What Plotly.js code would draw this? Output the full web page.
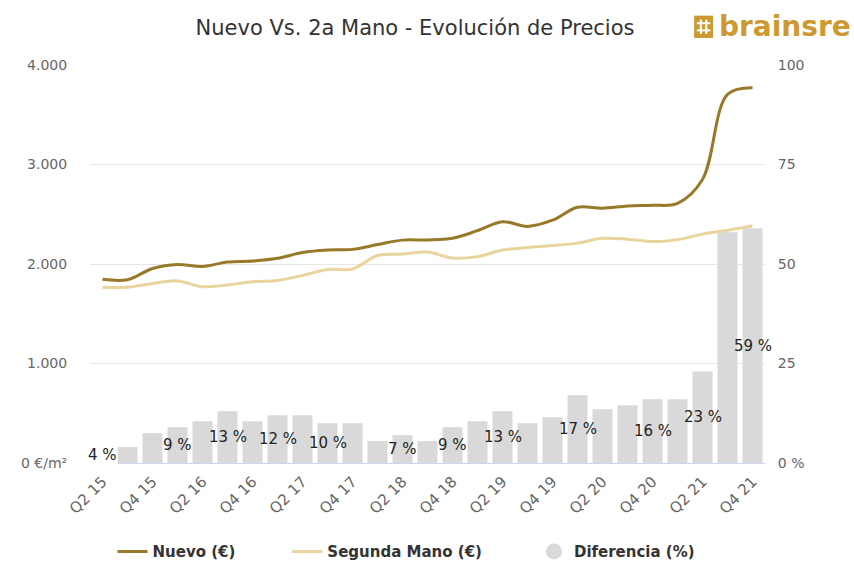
<!DOCTYPE html>
<html><head><meta charset="utf-8">
<script src="https://cdn.plot.ly/plotly-3.0.1.min.js"></script>
<style>html,body{margin:0;padding:0;background:#fff}#chart{width:854px;height:567px}</style>
</head><body><div id="chart"></div>
<script>
const quarters = ['Q2 15','Q3 15','Q4 15','Q1 16','Q2 16','Q3 16','Q4 16','Q1 17','Q2 17','Q3 17','Q4 17','Q1 18','Q2 18','Q3 18','Q4 18','Q1 19','Q2 19','Q3 19','Q4 19','Q1 20','Q2 20','Q3 20','Q4 20','Q1 21','Q2 21','Q3 21','Q4 21'];
const nuevo = [1846,1842,1955,1995,1975,2020,2030,2057,2115,2140,2147,2195,2240,2241,2258,2335,2425,2378,2440,2570,2560,2583,2590,2610,2850,3705,3772];
const segunda = [1766,1766,1805,1830,1772,1790,1822,1835,1885,1945,1950,2085,2100,2120,2060,2074,2140,2165,2185,2210,2258,2250,2225,2245,2300,2340,2385];
const diferencia = [4,4,7.5,9,10.5,13,10.5,12,12,10,10,5.5,7,5.5,9,10.5,13,10,11.5,17,13.5,14.5,16,16,23,58,59];
const diffLabels = ['4 %','','','9 %','','13 %','','12 %','','10 %','','','7 %','','9 %','','13 %','','','17 %','','','16 %','','23 %','','59 %'];
const leftTicks = [0,1000,2000,3000,4000];
const leftTickText = ['0 €/m²','1.000','2.000','3.000','4.000'];
const rightTicks = [0,25,50,75,100];
const rightTickText = ['0 %','25','50','75','100'];

const pad = '\u00a0'.repeat(9);

const traces = [
  {type:'bar', x:quarters, y:diferencia, xaxis:'x', yaxis:'y', name:'Diferencia (%)',
   marker:{color:'#d9d9d9'}, showlegend:false, hoverinfo:'skip'},
  {type:'scatter', mode:'lines', x:quarters, y:nuevo, xaxis:'x', yaxis:'y2', name:'Nuevo (€)' + pad,
   line:{color:'#987829', width:3, shape:'spline', smoothing:1}},
  {type:'scatter', mode:'lines', x:quarters, y:segunda, xaxis:'x', yaxis:'y2', name:'Segunda Mano (€)' + pad,
   line:{color:'#e8d49c', width:3, shape:'spline', smoothing:1}},
  {type:'scatter', mode:'markers', x:[null], y:[null], xaxis:'x', yaxis:'y', name:'Diferencia (%)',
   marker:{color:'#d9d9d9', size:16, symbol:'circle'}}
];

const annotations = [];
quarters.forEach((q,i)=>{
  if (diffLabels[i]) {
    annotations.push({x:q, y:diferencia[i]/2, xref:'x', yref:'y', text:diffLabels[i], showarrow:false,
      font:{family:'DejaVu Sans', size:15, color:'#222222'},
      bgcolor: i===0 ? '#ffffff' : 'rgba(0,0,0,0)', borderpad:0});
  }
});
annotations.push({x:1.131, y:1.097, xref:'paper', yref:'paper', xanchor:'right', yanchor:'middle',
  text:'brainsre', showarrow:false, font:{family:'DejaVu Sans', size:28, color:'#cc9a30', weight:'bold'}});

const shapes = [
  {type:'rect', xref:'paper', yref:'paper', x0:0.895, x1:0.923, y0:1.068, y1:1.124, fillcolor:'#cc9a30', line:{width:0}},
  {type:'line', xref:'paper', yref:'paper', x0:0.899, x1:0.919, y0:1.087, y1:1.087, line:{color:'#ffffff', width:2}},
  {type:'line', xref:'paper', yref:'paper', x0:0.899, x1:0.919, y0:1.105, y1:1.105, line:{color:'#ffffff', width:2}},
  {type:'line', xref:'paper', yref:'paper', x0:0.905, x1:0.905, y0:1.078, y1:1.114, line:{color:'#ffffff', width:2}},
  {type:'line', xref:'paper', yref:'paper', x0:0.913, x1:0.913, y0:1.078, y1:1.114, line:{color:'#ffffff', width:2}}
];

const layout = {
  width:854, height:567,
  margin:{l:90, r:89, t:65, b:104},
  paper_bgcolor:'#ffffff', plot_bgcolor:'#ffffff',
  separators:',.',
  bargap:0.2,
  title:{text:'Nuevo Vs. 2a Mano - Evolución de Precios', x:0.486, xref:'container', y:0.952, yref:'container',
    xanchor:'center', yanchor:'middle', font:{family:'DejaVu Sans', size:21, color:'#333333'}},
  xaxis:{type:'category', categoryorder:'array', categoryarray:quarters, range:[-0.5,26.5],
    tickvals:quarters.filter((q,i)=>i%2===0), tickangle:-45, tickfont:{family:'DejaVu Sans', size:15, color:'#666666'},
    showgrid:false, showline:true, linecolor:'#ccd6eb', linewidth:1, ticks:'outside', ticklen:3, tickcolor:'rgba(0,0,0,0)',
    zeroline:false, fixedrange:true},
  yaxis:{side:'right', range:[0,100], tickvals:rightTicks, ticktext:rightTickText, tickfont:{family:'DejaVu Sans', size:14, color:'#666666'},
    showgrid:false, zeroline:false, ticks:'outside', ticklen:9, tickcolor:'rgba(0,0,0,0)'},
  yaxis2:{side:'left', overlaying:'y', range:[0,4000], tickvals:leftTicks, ticktext:leftTickText, tickfont:{family:'DejaVu Sans', size:14, color:'#666666'},
    showgrid:true, gridcolor:'#e6e6e6', gridwidth:1, zeroline:false, ticks:'outside', ticklen:19, tickcolor:'rgba(0,0,0,0)'},
  legend:{orientation:'h', x:0.476, xref:'container', xanchor:'center', y:0.027, yref:'container', yanchor:'middle',
    font:{family:'DejaVu Sans', size:15, color:'#333333', weight:'bold'}, itemwidth:30},
  annotations:annotations,
  shapes:shapes,
  showlegend:true
};

Plotly.newPlot('chart', traces, layout, {displayModeBar:false, staticPlot:true});
</script>
</body></html>
